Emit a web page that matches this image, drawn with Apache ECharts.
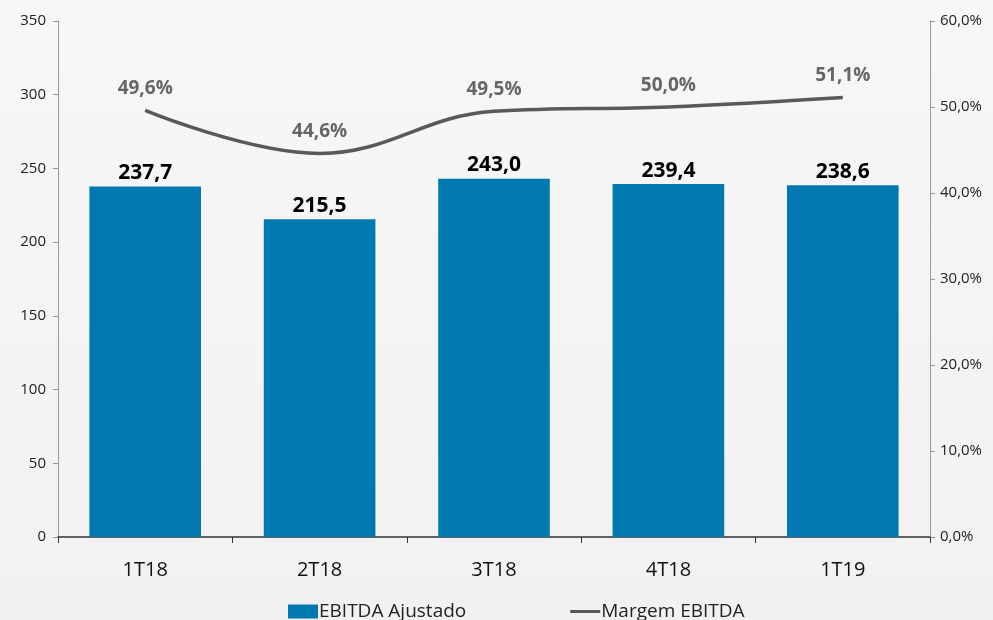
<!DOCTYPE html>
<html>
<head>
<meta charset="utf-8">
<script src="https://cdn.jsdelivr.net/npm/echarts@6/dist/echarts.min.js"></script>
<style>
	html, body { margin: 0; padding: 0; }
	body { background: linear-gradient(180deg, #f7f7f7 0%, #f1f1f1 100%); }
	#chart { width: 993px; height: 620px; }
</style>
</head>
<body>
<div id="chart"></div>
<script>
const categories = ['1T18', '2T18', '3T18', '4T18', '1T19']
const ebitdaAjustado = [237.7, 215.5, 243.0, 239.4, 238.6]
const margemEbitda = [49.6, 44.6, 49.5, 50.0, 51.1]

const fmt = (v, d) => v.toFixed(d).replace('.', ',')
const fontFamily = '"Open Sans", "Liberation Sans", sans-serif'

const myChart = echarts.init(document.getElementById('chart'), null, { renderer: 'canvas' })

let option = {
	backgroundColor: 'transparent',
	textStyle: { fontFamily: fontFamily },
	grid: { left: 58, right: 63, top: 21, bottom: 83 },
	legend: {
		bottom: -6,
		left: 283,
		itemGap: 104,
		itemWidth: 30,
		itemHeight: 14,
		textStyle: { fontSize: 19, color: '#222', fontFamily: fontFamily, padding: [0, 0, 0, -4] },
		data: [
			{ name: 'EBITDA Ajustado', icon: 'rect' },
			{ name: 'Margem EBITDA', icon: 'path://M0,0L30,0L30,3L0,3Z', itemStyle: { color: '#595959' } },
		],
	},
	xAxis: {
		type: 'category',
		data: categories,
		axisLine: { lineStyle: { color: '#333', width: 1.5 } },
		axisTick: { show: true, length: 6, lineStyle: { color: '#333' } },
		axisLabel: { fontSize: 20, color: '#111', margin: 23 },
	},
	yAxis: [
		{
			type: 'value',
			min: 0,
			max: 350,
			interval: 50,
			splitLine: { show: false },
			axisLine: { show: true, lineStyle: { color: '#999' } },
			axisTick: { show: true, length: 5, lineStyle: { color: '#999' } },
			axisLabel: { fontSize: 15, color: '#222', margin: 12 },
		},
		{
			type: 'value',
			min: 0,
			max: 60,
			interval: 10,
			splitLine: { show: false },
			axisLine: { show: true, lineStyle: { color: '#999' } },
			axisTick: { show: true, length: 5, lineStyle: { color: '#999' } },
			axisLabel: { fontSize: 15, color: '#222', margin: 10, formatter: (v) => fmt(v, 1) + '%' },
		},
	],
	series: [
		{
			name: 'EBITDA Ajustado',
			type: 'bar',
			data: ebitdaAjustado,
			barWidth: '64%',
			itemStyle: { color: '#0079B0' },
			label: {
				show: true,
				position: 'top',
				distance: 3,
				fontSize: 21,
				fontWeight: 'bold',
				color: '#000',
				formatter: (p) => fmt(p.value, 1),
			},
		},
		{
			name: 'Margem EBITDA',
			type: 'line',
			yAxisIndex: 1,
			data: margemEbitda,
			smooth: 0.4,
			symbol: 'circle',
			symbolSize: 0,
			lineStyle: { color: '#595959', width: 3.5 },
			itemStyle: { color: '#595959' },
			label: {
				show: true,
				position: 'top',
				distance: 12,
				fontSize: 19,
				fontWeight: 'bold',
				color: '#666',
				formatter: (p) => fmt(p.value, 1) + '%',
			},
		},
	],
}
myChart.setOption(option)

window.addEventListener('resize', () => {
	myChart.resize()
})
</script>
</body>
</html>
